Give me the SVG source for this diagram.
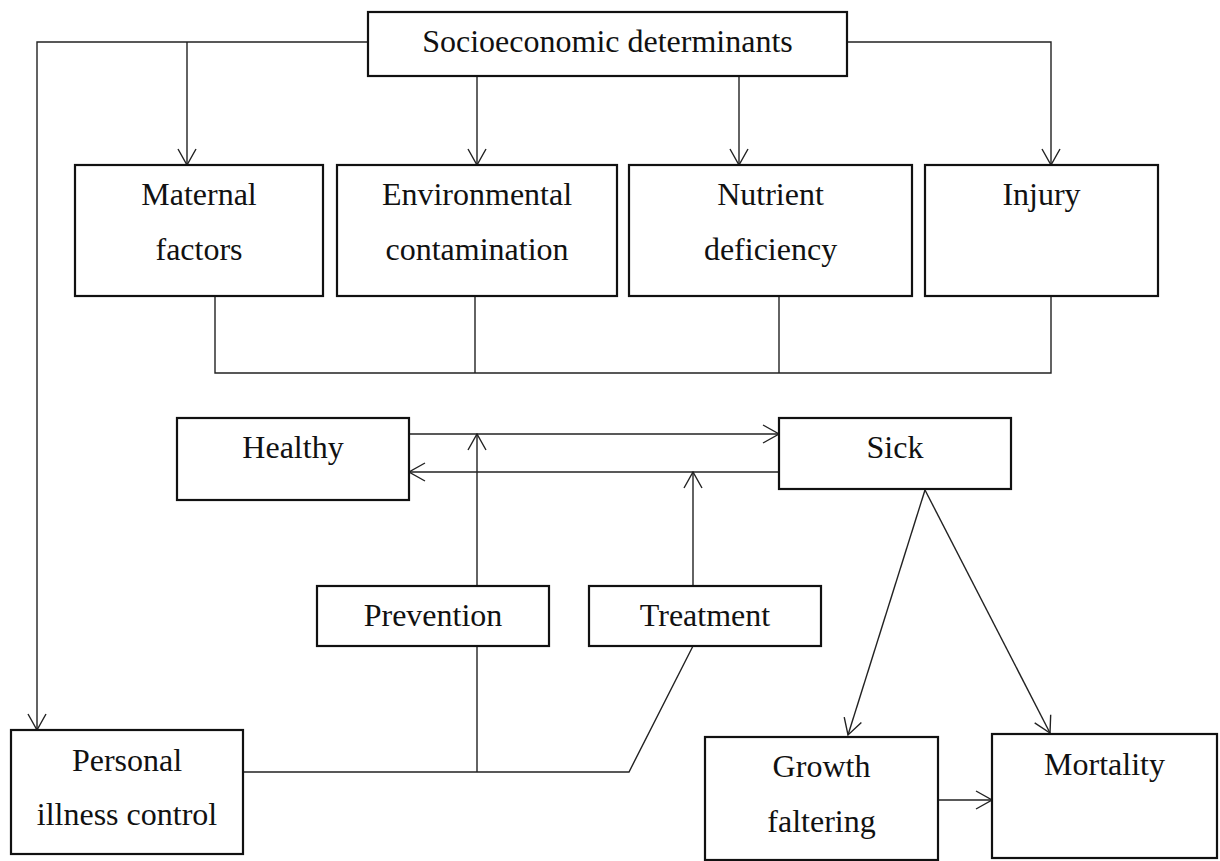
<svg xmlns="http://www.w3.org/2000/svg" width="1220" height="861" viewBox="0 0 1220 861">
<style>
.box{fill:#fff;stroke:#111;stroke-width:2.2}
.t{font-family:"Liberation Serif","Times New Roman",serif;font-size:32px;fill:#111;text-anchor:middle}
.c{fill:none;stroke:#222;stroke-width:1.4}
</style>
<defs>
<marker id="a" viewBox="0 0 18 20" refX="17" refY="10" markerWidth="18" markerHeight="20" markerUnits="userSpaceOnUse" orient="auto">
<path d="M1,1 L17,10 L1,19" fill="none" stroke="#222" stroke-width="1.4"/>
</marker>
</defs>
<rect width="1220" height="861" fill="#fff"/>
<g id="connectors">
<path class="c" d="M368,42 H37 V730" marker-end="url(#a)"/>
<path class="c" d="M187,42 V165" marker-end="url(#a)"/>
<path class="c" d="M847,42 H1051 V165" marker-end="url(#a)"/>
<path class="c" d="M477,76 V165" marker-end="url(#a)"/>
<path class="c" d="M739,76 V165" marker-end="url(#a)"/>
<path class="c" d="M215,296 V373 H1051 V296"/>
<path class="c" d="M475,296 V373"/>
<path class="c" d="M779,296 V373"/>
<path class="c" d="M409,434 H779" marker-end="url(#a)"/>
<path class="c" d="M779,472 H409" marker-end="url(#a)"/>
<path class="c" d="M477,586 V434" marker-end="url(#a)"/>
<path class="c" d="M693,586 V472" marker-end="url(#a)"/>
<path class="c" d="M243,772 H629 L693,646"/>
<path class="c" d="M477,646 V772"/>
<path class="c" d="M925,490 L848,735" marker-end="url(#a)"/>
<path class="c" d="M925,490 L1050,733" marker-end="url(#a)"/>
<path class="c" d="M938,800 H992" marker-end="url(#a)"/>
</g>
<g id="socio"><rect class="box" x="368" y="12" width="479" height="64"/><text class="t" x="607.5" y="52">Socioeconomic determinants</text></g>
<g id="maternal"><rect class="box" x="75" y="165" width="248" height="131"/><text class="t" x="199" y="205">Maternal</text><text class="t" x="199" y="260">factors</text></g>
<g id="environmental"><rect class="box" x="337" y="165" width="280" height="131"/><text class="t" x="477" y="205">Environmental</text><text class="t" x="477" y="260">contamination</text></g>
<g id="nutrient"><rect class="box" x="629" y="165" width="283" height="131"/><text class="t" x="770.5" y="205">Nutrient</text><text class="t" x="770.5" y="260">deficiency</text></g>
<g id="injury"><rect class="box" x="925" y="165" width="233" height="131"/><text class="t" x="1041.5" y="205">Injury</text></g>
<g id="healthy"><rect class="box" x="177" y="418" width="232" height="82"/><text class="t" x="293" y="458">Healthy</text></g>
<g id="sick"><rect class="box" x="779" y="418" width="232" height="71"/><text class="t" x="895" y="458">Sick</text></g>
<g id="prevention"><rect class="box" x="317" y="586" width="232" height="60"/><text class="t" x="433" y="626">Prevention</text></g>
<g id="treatment"><rect class="box" x="589" y="586" width="232" height="60"/><text class="t" x="705" y="626">Treatment</text></g>
<g id="personal"><rect class="box" x="11" y="730" width="232" height="124"/><text class="t" x="127" y="771">Personal</text><text class="t" x="127" y="825">illness control</text></g>
<g id="growth"><rect class="box" x="705" y="737" width="233" height="123"/><text class="t" x="821.5" y="777">Growth</text><text class="t" x="821.5" y="832">faltering</text></g>
<g id="mortality"><rect class="box" x="992" y="734" width="225" height="124"/><text class="t" x="1104.5" y="775">Mortality</text></g>
</svg>
